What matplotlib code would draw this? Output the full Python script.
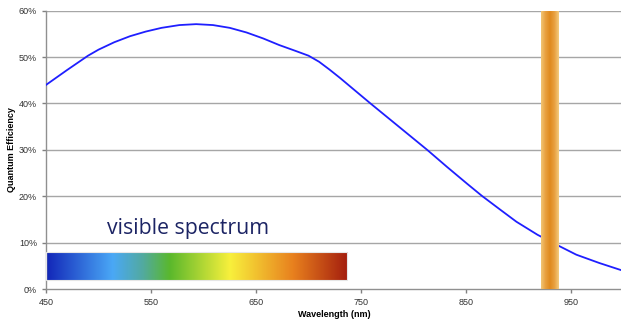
import numpy as np
import matplotlib
matplotlib.use('Agg')
import matplotlib.pyplot as plt
from matplotlib.colors import LinearSegmentedColormap
from matplotlib.ticker import FuncFormatter

# quantum efficiency curve (nm, %)
wavelength = [450, 470, 490, 500, 515, 530, 545, 560, 577, 593, 609, 625, 641, 657, 672,
              688, 700, 710, 720, 730, 740, 759, 786, 813, 832, 851, 865, 882, 898, 918,
              934, 955, 977, 1000]
qe = [44.0, 47.2, 50.3, 51.6, 53.2, 54.5, 55.5, 56.3, 56.9, 57.1, 56.9, 56.3, 55.3, 54.0, 52.6,
      51.3, 50.3, 49.0, 47.3, 45.5, 43.6, 40.0, 35.0, 30.0, 26.3, 22.7, 20.1, 17.2, 14.5, 11.7,
      9.8, 7.4, 5.6, 3.9]

# visible spectrum band
spec_start, spec_end = 450, 737
spec_low, spec_high = 2, 8
spec_stops = [0.0, 0.22, 0.32, 0.41, 0.61, 0.82, 1.0]
spec_colors = ['#1226b8', '#4aa8f6', '#52aaa0', '#5ab82c', '#f8f03c', '#e8801e', '#a41e0e']

# laser line band
laser_start, laser_end = 921, 938

yticks = [0, 10, 20, 30, 40, 50, 60]
xticks = [450, 550, 650, 750, 850, 950]

plt.rcParams['font.family'] = ['Liberation Sans', 'DejaVu Sans']

fig = plt.figure(figsize=(6.21, 3.24), dpi=100)
ax = fig.add_axes([0.0741, 0.108, 0.930, 0.859])

ax.set_xlim(450, 1000)
ax.set_ylim(0, 60)

for y in yticks[1:]:
    ax.axhline(y, color='#a6a6a6', lw=1.0, zorder=1)

# spectrum bar
spec_cmap = LinearSegmentedColormap.from_list('spec', list(zip(spec_stops, spec_colors)))
grad = np.linspace(0, 1, 256).reshape(1, -1)
ax.imshow(grad, cmap=spec_cmap, aspect='auto', extent=[spec_start, spec_end, spec_low, spec_high],
          zorder=2, interpolation='bilinear')
ax.add_patch(plt.Rectangle((spec_start, spec_low), spec_end - spec_start, spec_high - spec_low,
                           fill=False, ec='#e6e6e6', lw=0.8, zorder=3))

# curve
ax.plot(wavelength, qe, color='#1f1fff', lw=1.3, zorder=4, solid_joinstyle='round')

# laser bar
laser_cmap = LinearSegmentedColormap.from_list('laser', ['#f2c676', '#e8a040', '#e08a1e', '#e8a040', '#f4cc80'])
ax.imshow(grad, cmap=laser_cmap, aspect='auto', extent=[laser_start, laser_end, 0, 60],
          zorder=5, interpolation='bilinear')

ax.text(508, 11.8, 'visible spectrum', family='Open Sans', fontsize=15.3, color='#1c2464', zorder=6)

ax.set_xticks(xticks)
ax.set_yticks(yticks)
ax.yaxis.set_major_formatter(FuncFormatter(lambda v, p: '%d%%' % v))
ax.tick_params(axis='both', labelsize=6.5, colors='#808080', labelcolor='#333333', length=3, width=1)

for s in ['top', 'right']:
    ax.spines[s].set_visible(False)
for s in ['left', 'bottom']:
    ax.spines[s].set_color('#909090')
    ax.spines[s].set_linewidth(1.0)

ax.set_xlabel('Wavelength (nm)', fontsize=6.5, fontweight='bold', labelpad=2)
ax.set_ylabel('Quantum Efficiency', fontsize=6.5, fontweight='bold', labelpad=2)

fig.savefig('out.png', dpi=100)
